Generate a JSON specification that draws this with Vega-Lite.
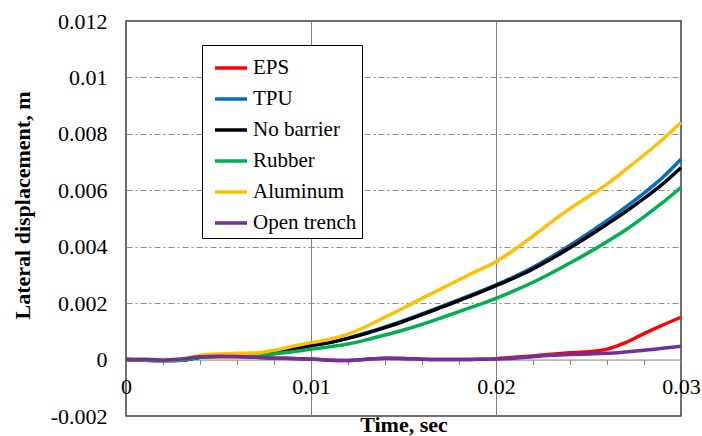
{
  "$schema": "https://vega.github.io/schema/vega-lite/v6.json",
  "width": 555,
  "height": 395,
  "autosize": {"type": "none"},
  "padding": {"left": 126, "top": 21, "right": 21, "bottom": 20},
  "background": "white",
  "config": {
    "view": {"stroke": "#404040", "strokeWidth": 1.5}
  },
  "datasets": {
    "curves": [
      {"t": 0.000, "s": "EPS", "v": 0}, {"t": 0.001, "s": "EPS", "v": 0}, {"t": 0.002, "s": "EPS", "v": -0.00002}, {"t": 0.003, "s": "EPS", "v": 0}, {"t": 0.004, "s": "EPS", "v": 0.00008}, {"t": 0.005, "s": "EPS", "v": 0.0001}, {"t": 0.006, "s": "EPS", "v": 0.0001}, {"t": 0.007, "s": "EPS", "v": 0.00008}, {"t": 0.008, "s": "EPS", "v": 0.00005}, {"t": 0.009, "s": "EPS", "v": 0.00004}, {"t": 0.010, "s": "EPS", "v": 0.00002}, {"t": 0.011, "s": "EPS", "v": -0.00002}, {"t": 0.012, "s": "EPS", "v": -0.00003}, {"t": 0.013, "s": "EPS", "v": 0.00001}, {"t": 0.014, "s": "EPS", "v": 0.00005}, {"t": 0.015, "s": "EPS", "v": 0.00004}, {"t": 0.016, "s": "EPS", "v": 0.00001}, {"t": 0.017, "s": "EPS", "v": 0}, {"t": 0.018, "s": "EPS", "v": 0}, {"t": 0.019, "s": "EPS", "v": 0.00001}, {"t": 0.020, "s": "EPS", "v": 0.00003}, {"t": 0.021, "s": "EPS", "v": 0.00008}, {"t": 0.022, "s": "EPS", "v": 0.00013}, {"t": 0.023, "s": "EPS", "v": 0.00019}, {"t": 0.024, "s": "EPS", "v": 0.00024}, {"t": 0.025, "s": "EPS", "v": 0.00028}, {"t": 0.026, "s": "EPS", "v": 0.00037}, {"t": 0.027, "s": "EPS", "v": 0.0006}, {"t": 0.028, "s": "EPS", "v": 0.00092}, {"t": 0.029, "s": "EPS", "v": 0.00122}, {"t": 0.030, "s": "EPS", "v": 0.0015},

      {"t": 0.000, "s": "TPU", "v": 0}, {"t": 0.001, "s": "TPU", "v": -0.00002}, {"t": 0.002, "s": "TPU", "v": -0.00003}, {"t": 0.003, "s": "TPU", "v": -0.00002}, {"t": 0.004, "s": "TPU", "v": 0.00008}, {"t": 0.005, "s": "TPU", "v": 0.00014}, {"t": 0.006, "s": "TPU", "v": 0.00015}, {"t": 0.007, "s": "TPU", "v": 0.00017}, {"t": 0.008, "s": "TPU", "v": 0.00025}, {"t": 0.009, "s": "TPU", "v": 0.00036}, {"t": 0.010, "s": "TPU", "v": 0.0005}, {"t": 0.011, "s": "TPU", "v": 0.0006}, {"t": 0.012, "s": "TPU", "v": 0.00076}, {"t": 0.013, "s": "TPU", "v": 0.00095}, {"t": 0.014, "s": "TPU", "v": 0.00116}, {"t": 0.015, "s": "TPU", "v": 0.00138}, {"t": 0.016, "s": "TPU", "v": 0.00162}, {"t": 0.017, "s": "TPU", "v": 0.00187}, {"t": 0.018, "s": "TPU", "v": 0.00212}, {"t": 0.019, "s": "TPU", "v": 0.00238}, {"t": 0.020, "s": "TPU", "v": 0.00265}, {"t": 0.021, "s": "TPU", "v": 0.00294}, {"t": 0.022, "s": "TPU", "v": 0.00327}, {"t": 0.023, "s": "TPU", "v": 0.00364}, {"t": 0.024, "s": "TPU", "v": 0.00405}, {"t": 0.025, "s": "TPU", "v": 0.00448}, {"t": 0.026, "s": "TPU", "v": 0.00492}, {"t": 0.027, "s": "TPU", "v": 0.0054}, {"t": 0.028, "s": "TPU", "v": 0.0059}, {"t": 0.029, "s": "TPU", "v": 0.00645}, {"t": 0.030, "s": "TPU", "v": 0.0071},

      {"t": 0.000, "s": "No barrier", "v": 0}, {"t": 0.001, "s": "No barrier", "v": -0.00002}, {"t": 0.002, "s": "No barrier", "v": -0.00003}, {"t": 0.003, "s": "No barrier", "v": -0.00002}, {"t": 0.004, "s": "No barrier", "v": 0.00008}, {"t": 0.005, "s": "No barrier", "v": 0.00014}, {"t": 0.006, "s": "No barrier", "v": 0.00015}, {"t": 0.007, "s": "No barrier", "v": 0.00017}, {"t": 0.008, "s": "No barrier", "v": 0.00025}, {"t": 0.009, "s": "No barrier", "v": 0.00036}, {"t": 0.010, "s": "No barrier", "v": 0.0005}, {"t": 0.011, "s": "No barrier", "v": 0.0006}, {"t": 0.012, "s": "No barrier", "v": 0.00075}, {"t": 0.013, "s": "No barrier", "v": 0.00093}, {"t": 0.014, "s": "No barrier", "v": 0.00113}, {"t": 0.015, "s": "No barrier", "v": 0.00135}, {"t": 0.016, "s": "No barrier", "v": 0.00159}, {"t": 0.017, "s": "No barrier", "v": 0.00184}, {"t": 0.018, "s": "No barrier", "v": 0.00209}, {"t": 0.019, "s": "No barrier", "v": 0.00235}, {"t": 0.020, "s": "No barrier", "v": 0.00262}, {"t": 0.021, "s": "No barrier", "v": 0.0029}, {"t": 0.022, "s": "No barrier", "v": 0.00321}, {"t": 0.023, "s": "No barrier", "v": 0.00357}, {"t": 0.024, "s": "No barrier", "v": 0.00396}, {"t": 0.025, "s": "No barrier", "v": 0.00437}, {"t": 0.026, "s": "No barrier", "v": 0.0048}, {"t": 0.027, "s": "No barrier", "v": 0.00524}, {"t": 0.028, "s": "No barrier", "v": 0.00571}, {"t": 0.029, "s": "No barrier", "v": 0.00622}, {"t": 0.030, "s": "No barrier", "v": 0.0068},

      {"t": 0.000, "s": "Rubber", "v": 0}, {"t": 0.001, "s": "Rubber", "v": -0.00002}, {"t": 0.002, "s": "Rubber", "v": -0.00003}, {"t": 0.003, "s": "Rubber", "v": -0.00002}, {"t": 0.004, "s": "Rubber", "v": 0.00008}, {"t": 0.005, "s": "Rubber", "v": 0.00012}, {"t": 0.006, "s": "Rubber", "v": 0.00013}, {"t": 0.007, "s": "Rubber", "v": 0.00014}, {"t": 0.008, "s": "Rubber", "v": 0.0002}, {"t": 0.009, "s": "Rubber", "v": 0.00028}, {"t": 0.010, "s": "Rubber", "v": 0.00037}, {"t": 0.011, "s": "Rubber", "v": 0.00045}, {"t": 0.012, "s": "Rubber", "v": 0.00055}, {"t": 0.013, "s": "Rubber", "v": 0.0007}, {"t": 0.014, "s": "Rubber", "v": 0.00087}, {"t": 0.015, "s": "Rubber", "v": 0.00105}, {"t": 0.016, "s": "Rubber", "v": 0.00125}, {"t": 0.017, "s": "Rubber", "v": 0.00147}, {"t": 0.018, "s": "Rubber", "v": 0.0017}, {"t": 0.019, "s": "Rubber", "v": 0.00193}, {"t": 0.020, "s": "Rubber", "v": 0.00217}, {"t": 0.021, "s": "Rubber", "v": 0.00244}, {"t": 0.022, "s": "Rubber", "v": 0.00274}, {"t": 0.023, "s": "Rubber", "v": 0.00307}, {"t": 0.024, "s": "Rubber", "v": 0.00342}, {"t": 0.025, "s": "Rubber", "v": 0.00379}, {"t": 0.026, "s": "Rubber", "v": 0.00418}, {"t": 0.027, "s": "Rubber", "v": 0.00459}, {"t": 0.028, "s": "Rubber", "v": 0.00506}, {"t": 0.029, "s": "Rubber", "v": 0.00556}, {"t": 0.030, "s": "Rubber", "v": 0.0061},

      {"t": 0.000, "s": "Aluminum", "v": 0}, {"t": 0.001, "s": "Aluminum", "v": 0}, {"t": 0.002, "s": "Aluminum", "v": 0}, {"t": 0.003, "s": "Aluminum", "v": 0.00002}, {"t": 0.004, "s": "Aluminum", "v": 0.00015}, {"t": 0.005, "s": "Aluminum", "v": 0.0002}, {"t": 0.006, "s": "Aluminum", "v": 0.00022}, {"t": 0.007, "s": "Aluminum", "v": 0.00023}, {"t": 0.008, "s": "Aluminum", "v": 0.00033}, {"t": 0.009, "s": "Aluminum", "v": 0.00047}, {"t": 0.010, "s": "Aluminum", "v": 0.0006}, {"t": 0.011, "s": "Aluminum", "v": 0.00072}, {"t": 0.012, "s": "Aluminum", "v": 0.0009}, {"t": 0.013, "s": "Aluminum", "v": 0.00118}, {"t": 0.014, "s": "Aluminum", "v": 0.0015}, {"t": 0.015, "s": "Aluminum", "v": 0.00183}, {"t": 0.016, "s": "Aluminum", "v": 0.00217}, {"t": 0.017, "s": "Aluminum", "v": 0.0025}, {"t": 0.018, "s": "Aluminum", "v": 0.00283}, {"t": 0.019, "s": "Aluminum", "v": 0.00315}, {"t": 0.020, "s": "Aluminum", "v": 0.00347}, {"t": 0.021, "s": "Aluminum", "v": 0.0039}, {"t": 0.022, "s": "Aluminum", "v": 0.00438}, {"t": 0.023, "s": "Aluminum", "v": 0.00488}, {"t": 0.024, "s": "Aluminum", "v": 0.00535}, {"t": 0.025, "s": "Aluminum", "v": 0.00578}, {"t": 0.026, "s": "Aluminum", "v": 0.00622}, {"t": 0.027, "s": "Aluminum", "v": 0.00673}, {"t": 0.028, "s": "Aluminum", "v": 0.00725}, {"t": 0.029, "s": "Aluminum", "v": 0.0078}, {"t": 0.030, "s": "Aluminum", "v": 0.0084},

      {"t": 0.000, "s": "Open trench", "v": 0}, {"t": 0.001, "s": "Open trench", "v": 0}, {"t": 0.002, "s": "Open trench", "v": -0.00002}, {"t": 0.003, "s": "Open trench", "v": 0.00002}, {"t": 0.004, "s": "Open trench", "v": 0.0001}, {"t": 0.005, "s": "Open trench", "v": 0.00012}, {"t": 0.006, "s": "Open trench", "v": 0.00011}, {"t": 0.007, "s": "Open trench", "v": 0.00008}, {"t": 0.008, "s": "Open trench", "v": 0.00005}, {"t": 0.009, "s": "Open trench", "v": 0.00004}, {"t": 0.010, "s": "Open trench", "v": 0.00002}, {"t": 0.011, "s": "Open trench", "v": -0.00002}, {"t": 0.012, "s": "Open trench", "v": -0.00003}, {"t": 0.013, "s": "Open trench", "v": 0.00001}, {"t": 0.014, "s": "Open trench", "v": 0.00005}, {"t": 0.015, "s": "Open trench", "v": 0.00004}, {"t": 0.016, "s": "Open trench", "v": 0.00001}, {"t": 0.017, "s": "Open trench", "v": 0}, {"t": 0.018, "s": "Open trench", "v": 0}, {"t": 0.019, "s": "Open trench", "v": 0.00001}, {"t": 0.020, "s": "Open trench", "v": 0.00002}, {"t": 0.021, "s": "Open trench", "v": 0.00005}, {"t": 0.022, "s": "Open trench", "v": 0.0001}, {"t": 0.023, "s": "Open trench", "v": 0.00015}, {"t": 0.024, "s": "Open trench", "v": 0.00018}, {"t": 0.025, "s": "Open trench", "v": 0.0002}, {"t": 0.026, "s": "Open trench", "v": 0.00022}, {"t": 0.027, "s": "Open trench", "v": 0.00027}, {"t": 0.028, "s": "Open trench", "v": 0.00033}, {"t": 0.029, "s": "Open trench", "v": 0.0004}, {"t": 0.030, "s": "Open trench", "v": 0.00047}
    ]
  },
  "data": {"name": "curves"},
  "mark": {"type": "line", "strokeWidth": 3.5, "interpolate": "monotone"},
  "encoding": {
    "x": {
      "field": "t",
      "type": "quantitative",
      "scale": {"domain": [0, 0.03], "nice": false, "zero": false},
      "axis": {
        "title": "Time, sec",
        "values": [0, 0.002, 0.004, 0.006, 0.008, 0.01, 0.012, 0.014, 0.016, 0.018, 0.02, 0.022, 0.024, 0.026, 0.028, 0.03],
        "labelExpr": "abs(datum.value * 100 - round(datum.value * 100)) < 1e-6 ? format(datum.value, '~g') : ''",
        "offset": -56.43,
        "domainColor": "#808080",
        "domainWidth": 1,
        "tickColor": "#808080",
        "tickSize": 5,
        "labelFont": "Times New Roman",
        "labelFontWeight": "normal",
        "labelFontSize": 22,
        "labelColor": "#000",
        "labelPadding": 12,
        "labelFlush": false,
        "labelOverlap": false,
        "grid": true,
        "gridColor": "#808080",
        "gridWidth": 1,
        "gridOpacity": {"condition": {"test": "abs(datum.value - 0.01) < 1e-6 || abs(datum.value - 0.02) < 1e-6", "value": 1}, "value": 0},
        "titleFont": "Liberation Serif",
        "titleFontSize": 22,
        "titleFontWeight": "bold",
        "titleColor": "#000",
        "titleBaseline": "alphabetic",
        "titleY": 72
      }
    },
    "y": {
      "field": "v",
      "type": "quantitative",
      "scale": {"domain": [-0.002, 0.012], "nice": false, "zero": false},
      "axis": {
        "title": "Lateral displacement, m",
        "values": [-0.002, 0, 0.002, 0.004, 0.006, 0.008, 0.01, 0.012],
        "labelExpr": "datum.value < 0 ? '-' + format(-datum.value, '.3~f') : format(datum.value, '.3~f')",
        "domain": false,
        "ticks": false,
        "labelFont": "Liberation Serif",
        "labelFontWeight": "normal",
        "labelFontSize": 22,
        "labelColor": "#000",
        "labelPadding": 19,
        "labelFlush": false,
        "grid": true,
        "gridColor": "#8c8c8c",
        "gridWidth": 1,
        "gridDash": [6, 3, 2, 3],
        "gridOpacity": {"condition": {"test": "datum.value <= 0.0001 || datum.value >= 0.0115", "value": 0}, "value": 1},
        "titleFont": "Liberation Serif",
        "titleFontSize": 22,
        "titleFontWeight": "bold",
        "titleColor": "#000",
        "titleBaseline": "middle",
        "titleX": -104,
        "titleY": 184
      }
    },
    "color": {
      "field": "s",
      "type": "nominal",
      "scale": {
        "domain": ["EPS", "TPU", "No barrier", "Rubber", "Aluminum", "Open trench"],
        "range": ["#ff0000", "#0070c0", "#000000", "#00b050", "#ffc000", "#7030a0"]
      },
      "legend": {
        "title": null,
        "orient": "none",
        "legendX": 76,
        "legendY": 24,
        "symbolType": "stroke",
        "symbolSize": 1024,
        "symbolStrokeWidth": 3.5,
        "symbolOffset": 6,
        "labelFont": "serif",
        "labelFontWeight": "normal",
        "labelFontSize": 21,
        "labelColor": "#000",
        "labelOffset": 4,
        "rowPadding": 3,
        "padding": 5,
        "strokeColor": "#000",
        "fillColor": "#fff"
      }
    }
  }
}
